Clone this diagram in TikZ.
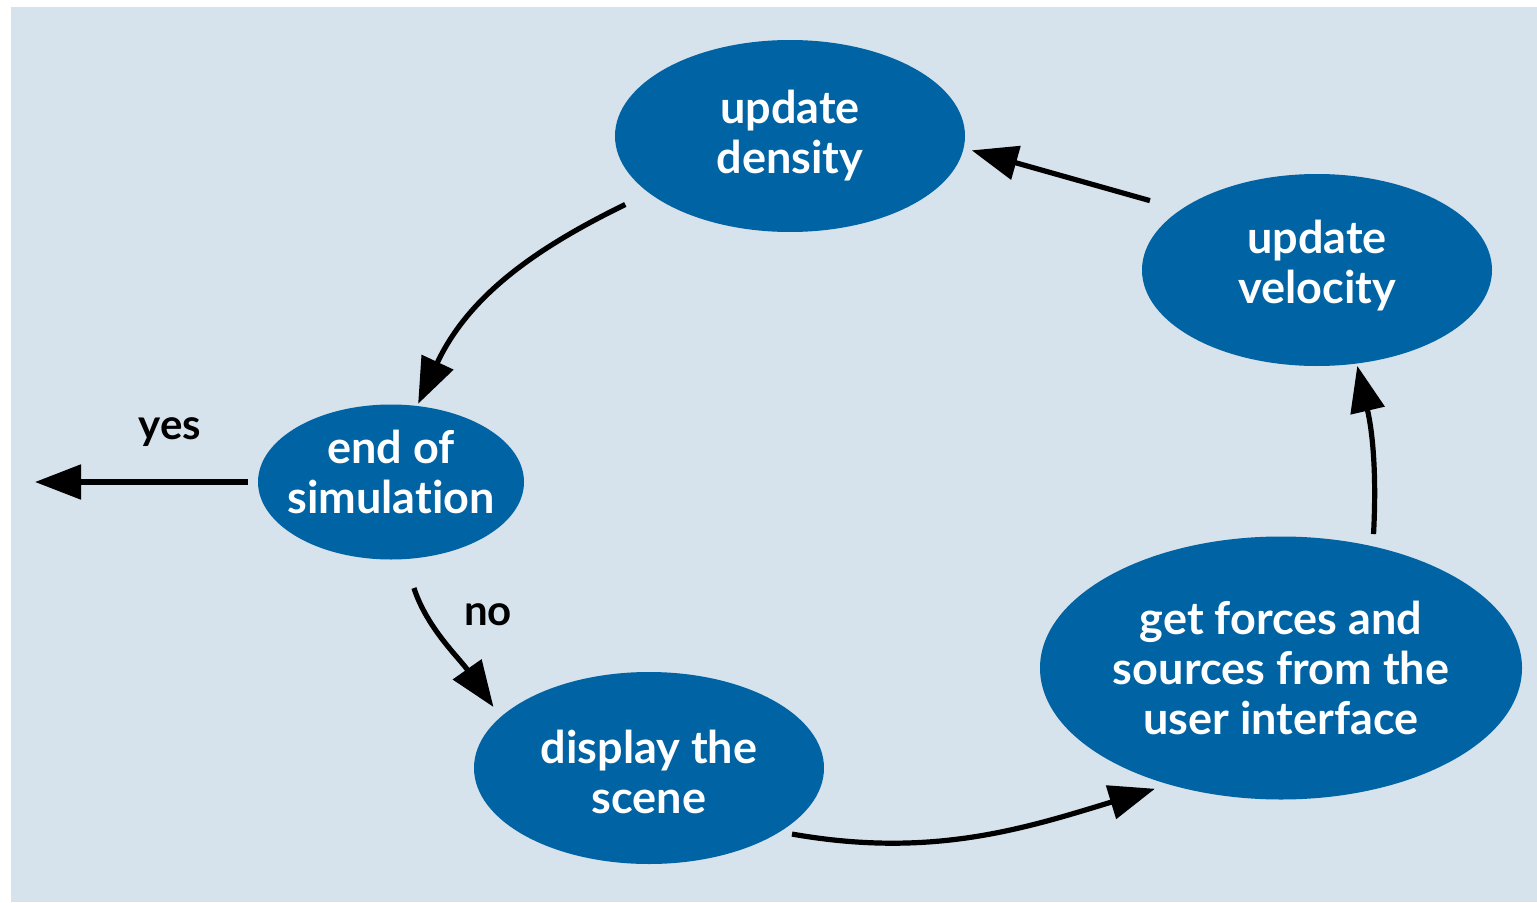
\documentclass[tikz,border=0pt]{standalone}
\usepackage{fontspec}
\setmainfont{Lato}[Ligatures=NoCommon]
\usetikzlibrary{shapes.geometric,arrows.meta}
\definecolor{bgblue}{RGB}{214,226,236}
\definecolor{nodeblue}{RGB}{0,99,163}

\begin{document}
\begin{tikzpicture}[x=0.5pt, y=0.5pt,
	stage/.style={ellipse, fill=nodeblue, text=white, inner sep=0, align=center, font=\fontsize{22.5}{25}\selectfont\bfseries, minimum width=175pt, minimum height=96pt},
	flow/.style={line width=2.6pt, -{Triangle[length=23pt,width=17pt]}},
	lbl/.style={font=\fontsize{21}{25}\selectfont\bfseries}]
	\fill[bgblue] (11,0) rectangle (1537,895);
	\useasboundingbox (0,0) rectangle (1537,902);

	\node[stage] (dens) at (790,766) {update\\density};
	\node[stage] (velo) at (1317,632) {update\\velocity\rule[-8pt]{0pt}{0pt}};
	\node[stage, inner xsep=-5pt, inner ysep=-4pt, minimum width=133pt, minimum height=77.5pt] (endsim) at (391,420) {end of\\simulation\rule[-10pt]{0pt}{0pt}};
	\node[stage] (disp) at (649,134) {\rule{0pt}{21pt}display the\\scene};
	\node[stage, minimum width=241pt, minimum height=131.5pt] (forces) at (1281,234) {get forces and\\sources from the\\user interface};
	\coordinate (exit) at (35,420);

	\draw[flow, shorten <=13pt, shorten >=1pt] (dens.202) to[out=206, in=65] (endsim.71);
	\draw[flow, shorten <=5pt] (endsim.west) -- (exit);
	\draw[flow, shorten <=15pt, shorten >=6pt] (endsim.280) to[out=-72, in=125] (disp.161);
	\draw[flow, shorten <=6pt, shorten >=7pt] (disp.-26) to[out=-10, in=197] (forces.226);
	\draw[flow, shorten <=6pt, shorten >=1pt] (forces.53) to[out=87, in=-77] (velo.-67);
	\draw[flow, shorten <=16pt, shorten >=4pt] (velo.156) -- (dens.-4);

	\node[lbl] (yes) at (170,470) {yes};
	\node[lbl] (no) at (488,287) {no};
\end{tikzpicture}
\end{document}
